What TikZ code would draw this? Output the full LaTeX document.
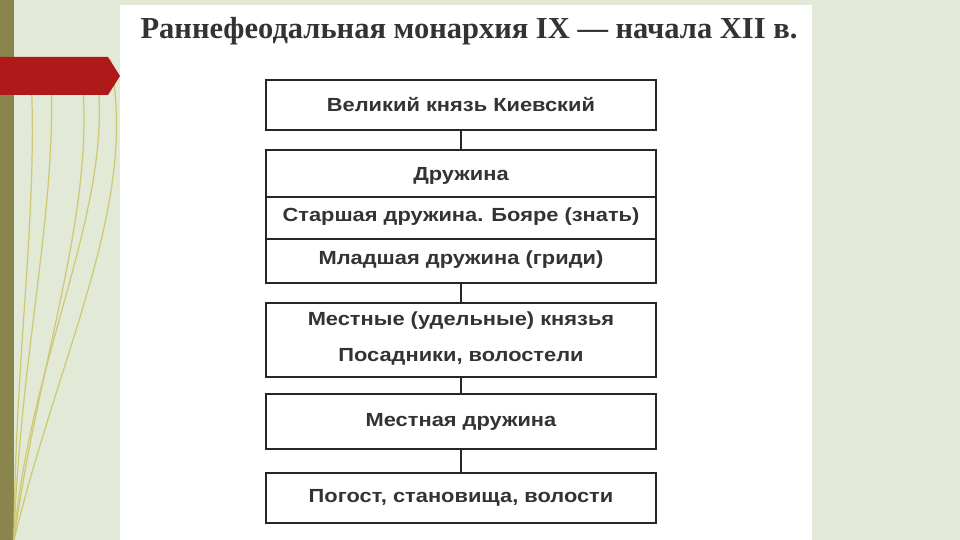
\documentclass[tikz,border=0pt]{standalone}
\usepackage{fontspec}
\setmainfont{Liberation Sans}
\newfontfamily\titlefont{Liberation Serif}
\definecolor{bgc}{RGB}{226,233,214}
\begin{document}
\begin{tikzpicture}[x=1pt,y=-1pt,
  bx/.style={draw=black!85,line width=1.3pt,fill=white,minimum width=390pt,inner sep=0pt},
  lbl/.style={font=\bfseries\fontsize{19}{22}\selectfont,text=black!80,xscale=1.15},
  con/.style={draw=black!85,line width=1.3pt}]
\useasboundingbox (0,0) rectangle (960,540);
\fill[bgc] (0,0) rectangle (960,540);
\fill[olive!60!black!75] (0,0) rectangle (14,540);
\foreach \a/\b/\c in {20/60/50,40/100/80,15/40/30,60/140/110,30/120/95}{
  \draw[olive!45!white,line width=1.2pt] (14,540) .. controls (\a,350) and (\b,200) .. (\c,60);}
\fill[red!65!black!90] (0,57) -- (108,57) -- (120,76) -- (108,95) -- (0,95) -- cycle;
\fill[white] (120,5) rectangle (812,540);
\node[font=\titlefont\bfseries\fontsize{30.5}{33}\selectfont,text=black!80] (title) at (469,31) {Раннефеодальная монархия IX — начала XII в.};
\node[bx,minimum height=50pt] (b1) at (461,105) {};
\node[lbl] at (b1) {Великий князь Киевский};
\node[bx,minimum height=133pt] (b2) at (461,216.5) {};
\draw[con] (266,197) -- (656,197);
\draw[con] (266,239) -- (656,239);
\node[lbl] at (461,176) {Дружина};
\node[lbl] at (461,217) {Старшая дружина. Бояре (знать)};
\node[lbl] at (461,260) {Младшая дружина (гриди)};
\node[bx,minimum height=74pt] (b3) at (461,340) {};
\node[lbl] at (461,321) {Местные (удельные) князья};
\node[lbl] at (461,357) {Посадники, волостели};
\node[bx,minimum height=55pt] (b4) at (461,421.5) {};
\node[lbl] at (b4) {Местная дружина};
\node[bx,minimum height=50pt] (b5) at (461,498) {};
\node[lbl] at (b5) {Погост, становища, волости};
\draw[con] (b1) -- (b2);
\draw[con] (b2) -- (b3);
\draw[con] (b3) -- (b4);
\draw[con] (b4) -- (b5);
\end{tikzpicture}
\end{document}
